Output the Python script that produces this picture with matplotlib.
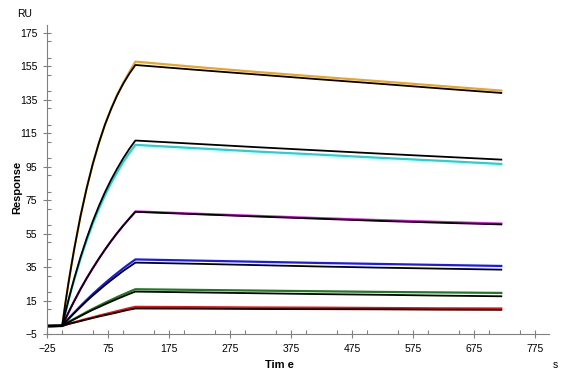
import numpy as np
import matplotlib
matplotlib.use("Agg")
import matplotlib.pyplot as plt
from matplotlib.ticker import MultipleLocator

plt.rcParams['font.family'] = ['Liberation Sans', 'DejaVu Sans']

# time points (s): baseline, association 0-120, dissociation 120-720
time = [-25, 0, 5, 10, 15, 20, 30, 40, 50, 60, 70, 80, 90, 100, 110, 120,
        220, 320, 420, 520, 620, 720]

# measured curves (RU)
orange = [-0.3, 0, 13, 25, 36, 46.5, 65.5, 82, 96.5, 109, 120, 129.5, 138, 145, 151.5, 157.7,
          154.5, 151.5, 148.7, 146, 143.2, 140.4]
cyan = [-0.3, 0, 7.5, 14.7, 21.5, 28, 40, 50.9, 60.8, 69.7, 77.8, 85.1, 91.6, 97.7, 103.1, 108,
        106, 104, 102.2, 100.3, 98.5, 96.6]
magenta = [-0.3, 0, 3.9, 7.7, 11.4, 15, 21.9, 28.3, 34.3, 40, 45.4, 50.5, 55.3, 59.8, 64, 68.3,
           66.9, 65.6, 64.3, 63.1, 62, 61]
blue = [-0.3, 0, 2.1, 4.1, 6.1, 8, 11.8, 15.4, 18.9, 22.2, 25.4, 28.5, 31.4, 34.3, 37, 39.6,
        38.9, 38.2, 37.5, 36.9, 36.3, 35.7]
green = [-0.3, 0, 1.1, 2.1, 3.2, 4.2, 6.2, 8.2, 10.1, 11.9, 13.7, 15.4, 17.1, 18.7, 20.3, 21.8,
         21.4, 21, 20.6, 20.2, 19.9, 19.6]
red = [-0.5, -0.2, 0.5, 1.05, 1.6, 2.1, 3.1, 4.1, 5, 6, 6.9, 7.8, 8.7, 9.6, 10.5, 11.3,
       11.1, 10.9, 10.8, 10.6, 10.4, 10.3]

# fitted curves (RU)
fit1 = [0, 0, 13, 25, 36, 46.5, 65.5, 82, 96.5, 109, 120, 129.3, 137.5, 144.5, 150.5, 155.7,
        152.8, 150, 147.2, 144.5, 141.7, 139]
fit2 = [0, 0, 7.7, 15, 22, 28.6, 41, 52.1, 62.3, 71.4, 79.7, 87.1, 93.8, 100, 105.6, 110.6,
        108.6, 106.6, 104.7, 102.8, 101, 99.2]
fit3 = [0, 0, 3.9, 7.7, 11.4, 15, 21.9, 28.3, 34.3, 40, 45.4, 50.5, 55.3, 59.8, 64, 68,
        66.6, 65.2, 63.9, 62.6, 61.5, 60.5]
fit4 = [0, 0, 2, 3.9, 5.8, 7.6, 11.2, 14.7, 18, 21.1, 24.2, 27.1, 29.9, 32.7, 35.2, 37.7,
        37, 36.2, 35.4, 34.7, 34.1, 33.5]
fit5 = [0, 0, 1, 2, 3, 3.9, 5.8, 7.7, 9.5, 11.1, 12.8, 14.4, 16, 17.5, 19, 20.4,
        19.9, 19.4, 18.9, 18.5, 18, 17.6]
fit6 = [0, 0, 0.5, 1, 1.5, 1.9, 2.8, 3.7, 4.6, 5.5, 6.3, 7.1, 7.9, 8.8, 9.6, 10.3,
        10.2, 10.0, 9.9, 9.8, 9.6, 9.5]

data = [orange, cyan, magenta, blue, green, red]
colors = ['#EBA620', '#1FD3D3', '#D81FD8', '#1A1AF0', '#1E7B1E', '#F01010']
fits = [fit1, fit2, fit3, fit4, fit5, fit6]

fig = plt.figure(figsize=(5.62, 3.75), dpi=100)
ax = fig.add_axes([0.0836, 0.109, 0.893, 0.824])

for y, c in zip(data, colors):
    ax.plot(time, y, color=c, lw=1.6)
for y in fits:
    ax.plot(time, y, color='black', lw=1.3)

ax.set_xlim(-25, 798)
ax.set_ylim(-5, 179.5)
ax.set_xticks(np.arange(-25, 776, 100))
ax.set_yticks(np.arange(-5, 176, 20))
ax.xaxis.set_minor_locator(MultipleLocator(50))
ax.yaxis.set_minor_locator(MultipleLocator(10))
ax.tick_params(which='major', direction='inout', length=6, width=0.8, color='#808080',
               labelsize=7.5, pad=4)
ax.tick_params(which='minor', direction='in', length=3, width=0.8, color='#808080')
for s in ['top', 'right']:
    ax.spines[s].set_visible(False)
for s in ['left', 'bottom']:
    ax.spines[s].set_color('#808080')
    ax.spines[s].set_linewidth(0.8)

fig.text(0.03, 0.5, 'Response', rotation=90, fontsize=8, fontweight='bold', ha='center', va='center')
fig.text(0.498, 0.013, 'Tim e', fontsize=8, fontweight='bold', ha='center', va='bottom')
fig.text(0.03, 0.975, 'RU', fontsize=7.5, ha='left', va='top')
fig.text(0.988, 0.013, 's', fontsize=7.5, ha='center', va='bottom')

fig.savefig('out.png', dpi=100)
